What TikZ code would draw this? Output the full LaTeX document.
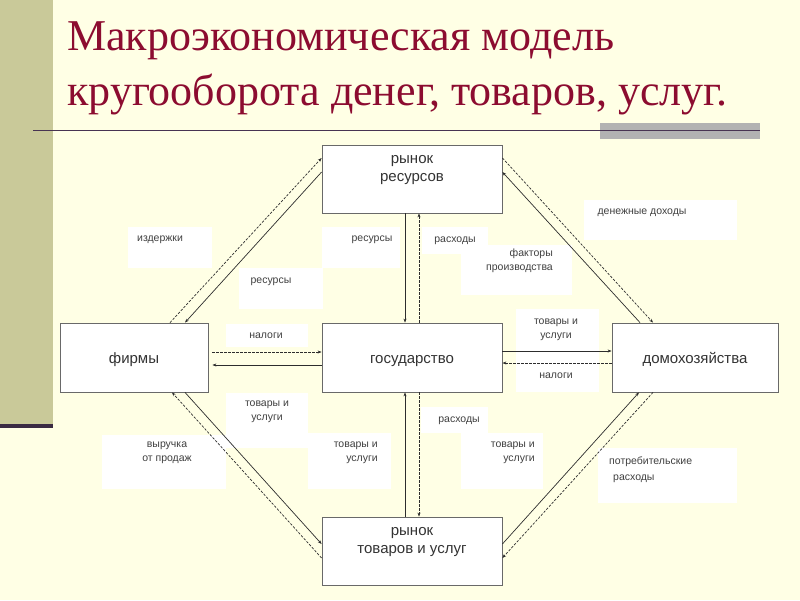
\documentclass[tikz,border=0pt]{standalone}
\usepackage{fontspec}
\setmainfont{Liberation Serif}
\newfontfamily\labfont{Liberation Sans}
\usetikzlibrary{arrows.meta}

\definecolor{bgyellow}{RGB}{255,255,229}
\definecolor{stripolive}{RGB}{201,201,153}
\definecolor{titlered}{RGB}{140,12,48}
\definecolor{rulepurple}{RGB}{72,52,82}
\definecolor{linegray}{RGB}{45,45,45}
\definecolor{boxgray}{RGB}{105,105,105}

\begin{document}
\begin{tikzpicture}[x=1pt, y=-1pt,
    market/.style = {draw=boxgray, fill=white, line width=0.8pt, minimum width=180pt, minimum height=68pt, inner sep=0pt},
    agent/.style = {market, minimum height=69pt, text=black!80, text height=11pt, text depth=0pt, font=\labfont\fontsize{15}{18}\selectfont},
    boxtext/.style = {font=\labfont\fontsize{15}{18}\selectfont, align=center, inner sep=0pt, text=black!80},
    tag/.style = {font=\labfont\fontsize{10.5}{14}\selectfont, inner sep=0pt, text=black!75},
    flow/.style = {draw=linegray, line width=0.7pt, -{Stealth[length=4pt,width=3pt]}},
    money/.style = {flow, dash pattern=on 2.5pt off 1.5pt},
    panel/.style = {fill=white}]

    \useasboundingbox (0,0) rectangle (800,600);
    % Slide background
    \fill[bgyellow] (0,0) rectangle (800,600);
    \fill[stripolive] (0,0) rectangle (53,424);
    \fill[rulepurple!80!black] (0,424) rectangle (53,428);
    \fill[gray!60] (600,123) rectangle (760,139);
    \draw[rulepurple, line width=1.5pt] (33,130.5) -- (760,130.5);

    % Title (base = last line)
    \node[anchor=base west, align=left, text=titlered, inner sep=0pt, font=\fontsize{44}{55}\selectfont] (title) at (67,105)
        {Макроэкономическая модель\\кругооборота денег, товаров, услуг.};

    % White panels under the labels
    \fill[panel] (128,227) rectangle (212,268);
    \fill[panel] (322,227) rectangle (400,268);
    \fill[panel] (239,268) rectangle (323,309);
    \fill[panel] (422,227) rectangle (488,254);
    \fill[panel] (461,245) rectangle (572,295);
    \fill[panel] (584,200) rectangle (737,240);
    \fill[panel] (226,324) rectangle (308,347);
    \fill[panel] (516,309) rectangle (599,392);
    \fill[panel] (226,393) rectangle (308,448);
    \fill[panel] (102,435) rectangle (226,489);
    \fill[panel] (308,433) rectangle (391,489);
    \fill[panel] (421,407) rectangle (488,433);
    \fill[panel] (461,433) rectangle (543,489);
    \fill[panel] (598,448) rectangle (737,503);

    % Markets and agents
    \node[market] (rr) at (412,179) {};
    \node[boxtext, anchor=base] (rrt) at ([yshift=-37pt]rr.north) {рынок\\ресурсов};
    \node[agent, minimum width=148pt] (firms) at (134,357.5) {фирмы};
    \node[agent] (gov) at (412,357.5) {государство};
    \node[agent, minimum width=166pt] (hh) at (695,357.5) {домохозяйства};
    \node[market] (rt) at (412,551) {};
    \node[boxtext, anchor=base] (rtt) at ([yshift=-37pt]rt.north) {рынок\\товаров и услуг};

    % Labels
    \node[tag, anchor=base] (izd) at (160,241) {издержки};
    \node[tag, anchor=base] (res1) at (372,241) {ресурсы};
    \node[tag, anchor=base] (res2) at (271,283) {ресурсы};
    \node[tag, anchor=base] (ras1) at (455,242) {расходы};
    \node[tag, anchor=base east, align=right] (fakt) at (553,270) {факторы\\производства};
    \node[tag, anchor=base] (doh) at (642,214) {денежные доходы};
    \node[tag, anchor=base] (nal1) at (266,338) {налоги};
    \node[tag, anchor=base, align=center] (tu1) at (556,338) {товары и\\услуги};
    \node[tag, anchor=base] (nal2) at (556,378) {налоги};
    \node[tag, anchor=base, align=center] (tu2) at (267,420) {товары и\\услуги};
    \node[tag, anchor=base, align=center] (vyr) at (167,461) {выручка\\от продаж};
    \node[tag, anchor=base east, align=right] (tu3) at (378,461) {товары и\\услуги};
    \node[tag, anchor=base] (ras2) at (459,422) {расходы};
    \node[tag, anchor=base east, align=right] (tu4) at (535,461) {товары и\\услуги};
    \node[tag, anchor=base west, align=left] (potr) at (609,480) {потребительские\\[2pt]\hspace{4pt}расходы};

    % Resource market <-> firms
    \draw[money] ([xshift=36pt]firms.north) -- ([yshift=21pt]rr.west);
    \draw[flow] ([yshift=7pt]rr.west) -- ([xshift=51pt]firms.north);
    % Resource market <-> households
    \draw[money] ([yshift=21pt]rr.east) -- ([xshift=-42pt]hh.north);
    \draw[flow] ([xshift=-55pt]hh.north) -- ([yshift=7pt]rr.east);
    % Resource market <-> state
    \draw[flow] ([xshift=-7pt]rr.south) -- ([xshift=-7pt]gov.north);
    \draw[money] ([xshift=7pt]gov.north) -- ([xshift=7pt]rr.south);
    % State <-> firms
    \draw[money] ([yshift=5.5pt,xshift=4pt]firms.east) -- ([yshift=5.5pt]gov.west);
    \draw[flow] ([yshift=-7.5pt]gov.west) -- ([yshift=-7.5pt,xshift=4pt]firms.east);
    % State <-> households
    \draw[flow] ([yshift=6.5pt]gov.east) -- ([yshift=6.5pt]hh.west);
    \draw[money] ([yshift=-5.5pt]hh.west) -- ([yshift=-5.5pt]gov.east);
    % State <-> goods market
    \draw[flow] ([xshift=-7pt]rt.north) -- ([xshift=-7pt]gov.south);
    \draw[money] ([xshift=7pt]gov.south) -- ([xshift=7pt]rt.north);
    % Firms <-> goods market
    \draw[flow] ([xshift=51pt]firms.south) -- ([yshift=7pt]rt.west);
    \draw[money] ([yshift=-7pt]rt.west) -- ([xshift=38pt]firms.south);
    % Goods market <-> households
    \draw[flow] ([yshift=7pt]rt.east) -- ([xshift=-56pt]hh.south);
    \draw[money] ([xshift=-42pt]hh.south) -- ([yshift=-7pt]rt.east);

\end{tikzpicture}
\end{document}
